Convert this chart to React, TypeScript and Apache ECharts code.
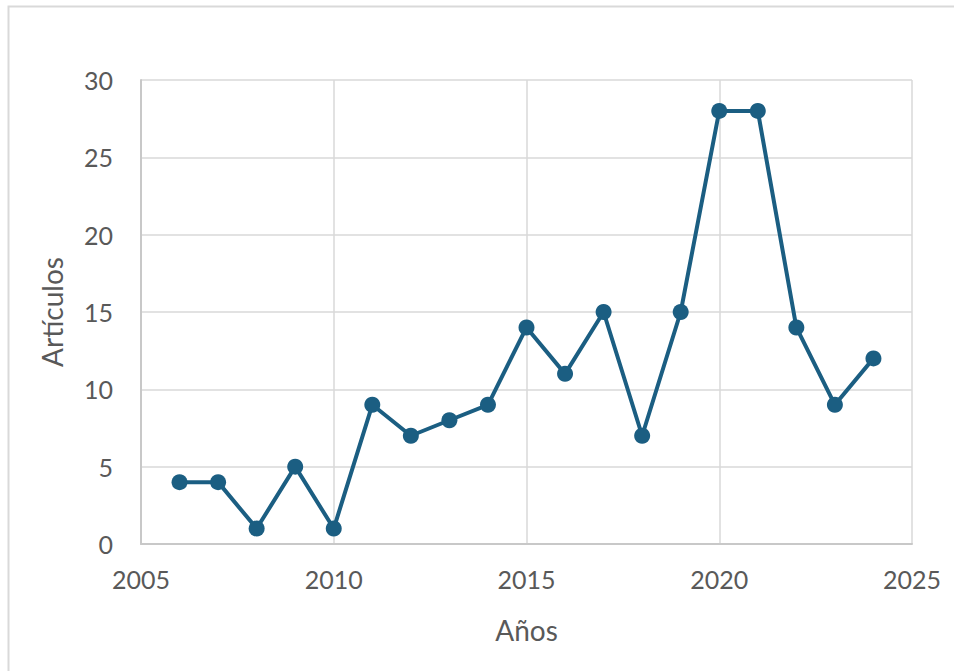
import React, { useEffect, useRef } from "react";
import * as echarts from "echarts";

const years = [2006, 2007, 2008, 2009, 2010, 2011, 2012, 2013, 2014, 2015, 2016, 2017, 2018, 2019, 2020, 2021, 2022, 2023, 2024];
const articles = [4, 4, 1, 5, 1, 9, 7, 8, 9, 14, 11, 15, 7, 15, 28, 28, 14, 9, 12];
const xTitle = "Años";
const yTitle = "Artículos";

export default function App() {
  const ref = useRef<HTMLDivElement>(null);
  useEffect(() => {
    document.body.style.margin = "0";
    const chart = echarts.init(ref.current!, null, { renderer: "svg" });
    const font = "Lato, 'Open Sans', sans-serif";
    chart.setOption({
      animation: false,
      backgroundColor: "#ffffff",
      graphic: [
        {
          type: "rect",
          shape: { x: 8.5, y: 6.5, width: 960, height: 680 },
          style: { fill: "none", stroke: "#d9d9d9", lineWidth: 2 },
          silent: true,
        },
      ],
      grid: { left: 141, top: 80, right: 42, bottom: 127, containLabel: false },
      xAxis: {
        type: "value",
        min: 2005,
        max: 2025,
        interval: 5,
        name: xTitle,
        nameLocation: "middle",
        nameGap: 72,
        nameTextStyle: { fontFamily: font, fontSize: 28, color: "#595959" },
        axisLine: { show: true, lineStyle: { color: "#c8c8c8", width: 2 } },
        axisTick: { show: false },
        axisLabel: { fontFamily: font, fontSize: 25, color: "#595959", margin: 22, formatter: (v: number) => String(v) },
        splitLine: { show: true, lineStyle: { color: "#d9d9d9", width: 1.5 } },
      },
      yAxis: {
        type: "value",
        min: 0,
        max: 30,
        interval: 5,
        name: yTitle,
        nameLocation: "middle",
        nameGap: 75,
        nameTextStyle: { fontFamily: font, fontSize: 28, color: "#595959" },
        axisLine: { show: true, lineStyle: { color: "#c8c8c8", width: 2 } },
        axisTick: { show: false },
        axisLabel: { fontFamily: font, fontSize: 25, color: "#595959", margin: 28 },
        splitLine: { show: true, lineStyle: { color: "#d9d9d9", width: 1.5 } },
      },
      series: [
        {
          type: "line",
          data: years.map((y, i) => [y, articles[i]]),
          symbol: "circle",
          symbolSize: 16,
          lineStyle: { color: "#1b5e82", width: 4 },
          itemStyle: { color: "#1b5e82" },
        },
      ],
    });
    return () => chart.dispose();
  }, []);
  return <div ref={ref} style={{ width: 954, height: 671 }} />;
}
